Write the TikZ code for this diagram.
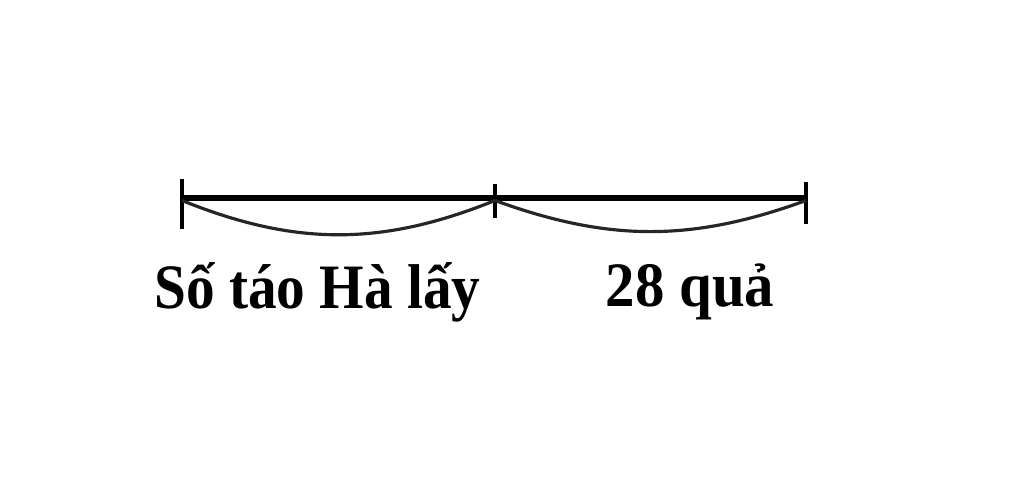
\documentclass[tikz,border=0pt]{standalone}
\usepackage{fontspec}
\setmainfont{Liberation Serif}
\usetikzlibrary{calc}

\begin{document}
\begin{tikzpicture}[scale=1]
        \useasboundingbox (0,0) rectangle (20.48,9.82);
        % 定义线段的三个端点
        \coordinate (A) at (3.64,5.86);
        \coordinate (M) at (9.90,5.86);
        \coordinate (B) at (16.12,5.86);

        % 绘制线段和刻度
        \draw [line width=3pt] (A) -- (M) -- (B);
        \draw [line width=2.8pt] ($(A)+(0,0.38)$) coordinate (At) -- ($(A)+(0,-0.62)$) coordinate (Ab);
        \draw [line width=2.8pt] ($(M)+(0,0.28)$) coordinate (Mt) -- ($(M)+(0,-0.40)$) coordinate (Mb);
        \draw [line width=2.8pt] ($(B)+(0,0.32)$) coordinate (Bt) -- ($(B)+(0,-0.52)$) coordinate (Bb);

        % 下方的两段弧
        \draw [line width=1.8pt, black!85] ($(A)+(0,-0.05)$) to[bend right=22] ($(M)+(0,-0.05)$);
        \draw [line width=1.8pt, black!85] ($(M)+(0,-0.05)$) to[bend right=20] ($(B)+(0,-0.05)$);

        % 文字
        \node (lblA) [xscale=0.905, transform shape] at (6.35,3.98) {\fontsize{36}{40}\selectfont\bfseries Số táo Hà lấy};
        \node (lblB) [xscale=0.93, transform shape] at (13.80,3.98) {\fontsize{36}{40}\selectfont\bfseries 28 quả};
    \end{tikzpicture}
\end{document}
